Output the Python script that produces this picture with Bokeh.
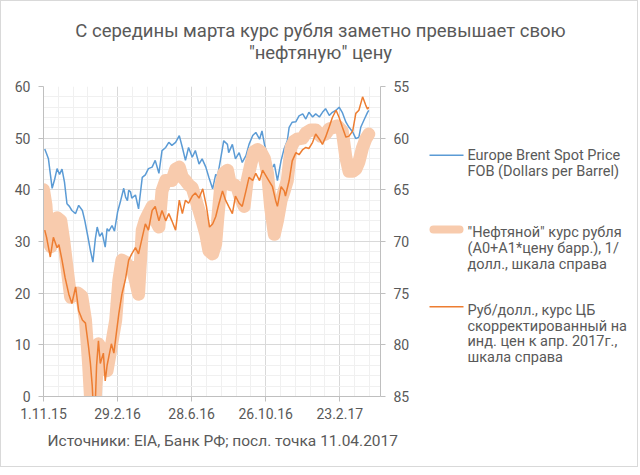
import pandas as pd
from bokeh.plotting import figure
from bokeh.layouts import column, row
from bokeh.models import Range1d, LinearAxis, FixedTicker
from bokeh.core.properties import value
from bokeh.embed import file_html
from bokeh.resources import INLINE

# ---------------- data ----------------
start_date = "2015-11-01"
end_day = 546
tick_dates = ["2015-11-01", "2016-02-29", "2016-06-28", "2016-10-26", "2017-02-23"]
tick_labels = ["1.11.15", "29.2.16", "28.6.16", "26.10.16", "23.2.17"]
left_ticks = [0, 10, 20, 30, 40, 50, 60]
right_ticks = [55, 60, 65, 70, 75, 80, 85]

# Europe Brent Spot Price, $/bbl (days since 1.11.15)
brent_day = [2, 5, 8, 14, 18, 22, 26, 30, 34, 38, 42, 46, 52, 57, 63, 67, 71, 76, 80, 84,
             87, 91, 95, 100, 103, 106, 111, 115, 120, 125, 130, 133, 136, 138, 141, 143, 149, 154, 160, 165,
             170, 176, 181, 187, 192, 198, 203, 208, 214, 220, 225, 230, 235, 241, 246, 252, 257, 263, 268, 274,
             279, 282, 287, 292, 298, 300, 306, 311, 317, 322, 328, 333, 339, 344, 350, 354, 358, 363, 368, 374,
             379, 385, 390, 395, 398, 403, 409, 414, 420, 425, 430, 436, 441, 447, 452, 457, 463, 468, 474, 479,
             484, 490, 495, 501, 506, 511, 514, 520, 525, 527]
brent_usd = [47.9, 47.0, 46.0, 40.3, 42.0, 44.1, 43.0, 44.0, 41.5, 37.3, 36.8, 36.0, 35.4, 37.0, 36.0, 34.0, 31.5, 28.3, 26.0, 30.5,
             32.8, 31.0, 31.7, 28.9, 32.5, 32.0, 33.1, 32.0, 35.7, 37.9, 40.3, 38.6, 37.9, 39.9, 39.6, 38.4, 39.0, 36.3, 42.4, 42.9,
             44.1, 44.4, 45.7, 43.2, 47.6, 48.2, 49.2, 48.6, 49.2, 50.5, 48.2, 45.7, 48.2, 46.3, 47.6, 45.0, 46.0, 44.4, 42.4, 40.2,
             43.0, 42.6, 46.0, 49.5, 48.8, 47.2, 48.8, 46.0, 47.2, 45.3, 46.6, 48.8, 50.5, 51.1, 49.8, 51.4, 48.8, 46.6, 43.7, 45.0,
             41.8, 45.7, 48.0, 49.5, 52.1, 53.1, 53.2, 54.3, 54.7, 53.7, 55.0, 54.1, 54.7, 54.1, 55.0, 55.7, 54.4, 55.0, 55.4, 56.0,
             55.0, 53.1, 52.1, 51.2, 49.9, 50.2, 52.1, 53.7, 55.0, 55.4]

# "Oil" ruble rate, RUB/USD (right scale, inverted)
oil_day = [0, 4, 8, 12, 16, 22, 28, 33, 38, 44, 50, 56, 62, 68, 73, 77, 82, 86, 89, 95,
           100, 103, 108, 113, 117, 122, 127, 133, 138, 143, 149, 154, 160, 165, 170, 176, 181, 187, 192, 198,
           203, 208, 214, 220, 225, 230, 235, 241, 246, 252, 257, 263, 268, 274, 279, 282, 287, 292, 298, 303,
           309, 314, 319, 325, 330, 336, 341, 347, 352, 358, 363, 368, 374, 379, 385, 390, 395, 401, 406, 411,
           420, 425, 433, 441, 449, 457, 463, 468, 476, 484, 490, 495, 501, 506, 511, 517, 522, 527]
oil_rub = [65.0, 66.5, 70.0, 70.5, 68.5, 67.7, 68.0, 70.0, 72.5, 75.4, 75.2, 75.0, 75.3, 77.6, 81.8, 86.0, 87.0, 83.0, 79.9, 80.5,
           82.0, 82.5, 80.8, 79.0, 77.6, 73.8, 71.8, 72.0, 72.5, 72.5, 73.8, 75.1, 68.9, 67.9, 67.3, 66.6, 67.9, 68.6, 65.1, 64.1,
           64.1, 64.1, 63.0, 62.8, 63.8, 64.1, 64.5, 64.8, 65.8, 67.0, 68.0, 69.3, 70.9, 71.2, 70.2, 68.0, 64.7, 63.4, 63.1, 64.5,
           64.5, 64.8, 65.8, 66.6, 64.1, 62.5, 61.3, 61.1, 61.3, 62.0, 63.4, 66.7, 69.3, 68.0, 66.0, 65.1, 64.1, 60.9, 60.3, 60.1,
           60.0, 59.5, 59.2, 59.2, 59.8, 59.6, 59.1, 59.0, 58.8, 59.3, 61.9, 63.2, 63.2, 63.0, 62.3, 60.9, 60.1, 59.6]

# CBR RUB/USD adjusted for inflation (right scale, inverted)
cbr_day = [2, 5, 11, 16, 22, 25, 30, 35, 41, 46, 52, 57, 63, 68, 73, 76, 79, 81, 84, 86,
           89, 92, 97, 100, 103, 106, 110, 114, 118, 122, 127, 133, 138, 143, 149, 154, 160, 165, 170, 176,
           181, 187, 192, 198, 203, 208, 214, 220, 225, 230, 235, 241, 246, 252, 258, 264, 269, 274, 279, 284,
           290, 295, 300, 306, 311, 317, 322, 328, 333, 339, 344, 350, 355, 360, 365, 371, 376, 379, 385, 390,
           392, 398, 403, 409, 414, 420, 425, 430, 436, 441, 447, 452, 457, 463, 468, 474, 479, 484, 490, 495,
           501, 506, 511, 517, 519, 522, 525, 527]
cbr_rub = [68.9, 69.6, 71.5, 69.6, 70.6, 70.3, 71.8, 73.5, 75.1, 76.0, 74.4, 76.7, 77.6, 77.9, 80.2, 81.8, 84.0, 86.5, 85.5, 82.0,
           79.6, 81.8, 80.8, 83.5, 82.0, 81.1, 79.9, 80.8, 78.9, 77.0, 75.1, 73.6, 71.8, 71.2, 70.6, 71.2, 69.6, 68.3, 68.9, 67.0,
           66.6, 68.0, 67.0, 68.0, 67.3, 68.0, 68.9, 66.0, 67.3, 66.0, 66.3, 65.6, 65.3, 65.8, 64.9, 66.6, 68.6, 68.3, 67.6, 66.4,
           65.1, 66.0, 66.6, 67.3, 65.6, 66.3, 66.6, 65.1, 63.8, 64.1, 63.4, 64.1, 63.1, 63.6, 64.1, 64.7, 66.0, 66.6, 64.7, 65.1,
           65.6, 64.1, 62.2, 61.4, 61.6, 61.1, 60.9, 61.0, 60.4, 59.6, 60.1, 60.6, 59.9, 58.9, 58.0, 57.3, 58.0, 58.9, 59.9, 59.8,
           59.3, 57.6, 57.3, 56.0, 56.3, 56.8, 57.2, 57.0]

title_lines = ["С середины марта курс рубля заметно превышает свою", "\"нефтяную\" цену"]
legend_blue = ["Europe Brent Spot Price", "FOB (Dollars per Barrel)"]
legend_peach = ["\"Нефтяной\" курс рубля", "(A0+A1*цену барр.), 1/", "долл., шкала справа"]
legend_orange = ["Руб/долл., курс ЦБ", "скорректированный на", "инд. цен к апр. 2017г.,", "шкала справа"]
source_text = "Источники: EIA, Банк РФ; посл. точка 11.04.2017"

# ---------------- styling ----------------
TXT = "#595959"
FONT = "Roboto"
BLUE, PEACH, ORANGE = "#5B9BD5", "#F8CBAD", "#ED7D31"
W = 636
TITLE_H, MAIN_H, FOOT_H = 77, 352, 36
MAIN_W = 418
LEG_W = W - MAIN_W

t0 = pd.Timestamp(start_date)


def to_dt(days):
    return t0 + pd.to_timedelta(days, unit="D")


def ms(ts):
    return float(pd.Timestamp(ts).value // 10**6)


def blank(width, height):
    """Figure whose frame fills the whole canvas; y grows downward (pixel-like)."""
    f = figure(width=width, height=height, output_backend="svg", toolbar_location=None,
               x_range=Range1d(0, width), y_range=Range1d(height, 0),
               x_axis_location=None, y_axis_location=None,
               min_border=0, min_border_left=0, min_border_right=0,
               min_border_top=0, min_border_bottom=0)
    f.outline_line_color = None
    f.grid.visible = False
    f.background_fill_color = "white"
    f.border_fill_color = "white"
    return f


def txt(f, xs, ys, texts, size, align="left"):
    f.text(x=xs, y=ys, text=texts, text_font=value(FONT), text_font_size=value(f"{size}px"),
           text_color=TXT, text_align=align, text_baseline="middle")


# ---------------- title ----------------
pt = blank(W, TITLE_H)
txt(pt, [319, 319], [29, 51], title_lines, 18.5, "center")

# ---------------- main chart ----------------
p = figure(width=MAIN_W, height=MAIN_H, x_axis_type="datetime", output_backend="svg",
           toolbar_location=None,
           x_range=Range1d(to_dt(0), to_dt(end_day)), y_range=Range1d(0, 60),
           min_border_left=42, min_border_right=39, min_border_top=8, min_border_bottom=34)
p.outline_line_color = None
p.background_fill_color = "white"
p.border_fill_color = "white"
p.extra_y_ranges = {"rub": Range1d(start=85, end=55)}

xt = [ms(d) for d in tick_dates]
minor_x = [ms(to_dt(d)) for d in range(0, end_day + 1, 24)]
p.xaxis.ticker = FixedTicker(ticks=xt, minor_ticks=minor_x)
p.xaxis.major_label_overrides = {k: v for k, v in zip(xt, tick_labels)}
p.yaxis.ticker = FixedTicker(ticks=left_ticks, minor_ticks=list(range(0, 61, 2)))

ax2 = LinearAxis(y_range_name="rub", ticker=FixedTicker(ticks=right_ticks))
p.add_layout(ax2, "right")

for ax in [p.xaxis[0], p.yaxis[0], ax2]:
    ax.axis_line_color = "#bfbfbf"
    ax.major_tick_line_color = "#bfbfbf"
    ax.major_tick_in = 0
    ax.major_tick_out = 5
    ax.minor_tick_line_color = None
    ax.major_label_text_color = TXT
    ax.major_label_text_font = FONT
    ax.major_label_text_font_size = "14px"
    ax.major_label_standoff = 8
p.xaxis.major_label_standoff = 6

for g in [p.xgrid[0], p.ygrid[0]]:
    g.grid_line_color = "#d9d9d9"
    g.minor_grid_line_color = "#f0f0f0"

p.line(to_dt(brent_day), brent_usd, line_color=BLUE, line_width=1.5)
p.line(to_dt(oil_day), oil_rub, y_range_name="rub", line_color=PEACH, line_width=13,
       line_cap="round", line_join="round")
p.line(to_dt(cbr_day), cbr_rub, y_range_name="rub", line_color=ORANGE, line_width=1.5)

# ---------------- legend ----------------
pl = blank(LEG_W, MAIN_H)
pl.line([10, 44], [78, 78], line_color=BLUE, line_width=1.5)
pl.line([14, 40], [162.5, 162.5], line_color=PEACH, line_width=8, line_cap="round")
pl.line([10, 44], [250, 250], line_color=ORANGE, line_width=1.5)
txt(pl, [48] * 2, [78.2, 96.5], legend_blue, 14.5)
txt(pl, [48] * 3, [165.8, 183.8, 202.2], legend_peach, 14.5)
txt(pl, [48] * 4, [254.2, 272.2, 289.8, 308.2], legend_orange, 14.5)

# ---------------- footer ----------------
pf = blank(W, FOOT_H)
txt(pf, [46], [10], [source_text], 15.5)

layout = column(pt, row(p, pl, spacing=0), pf, spacing=0,
                styles={"border": "1px solid #d9d9d9"})

open("out.html", "w").write(file_html(layout, INLINE))
